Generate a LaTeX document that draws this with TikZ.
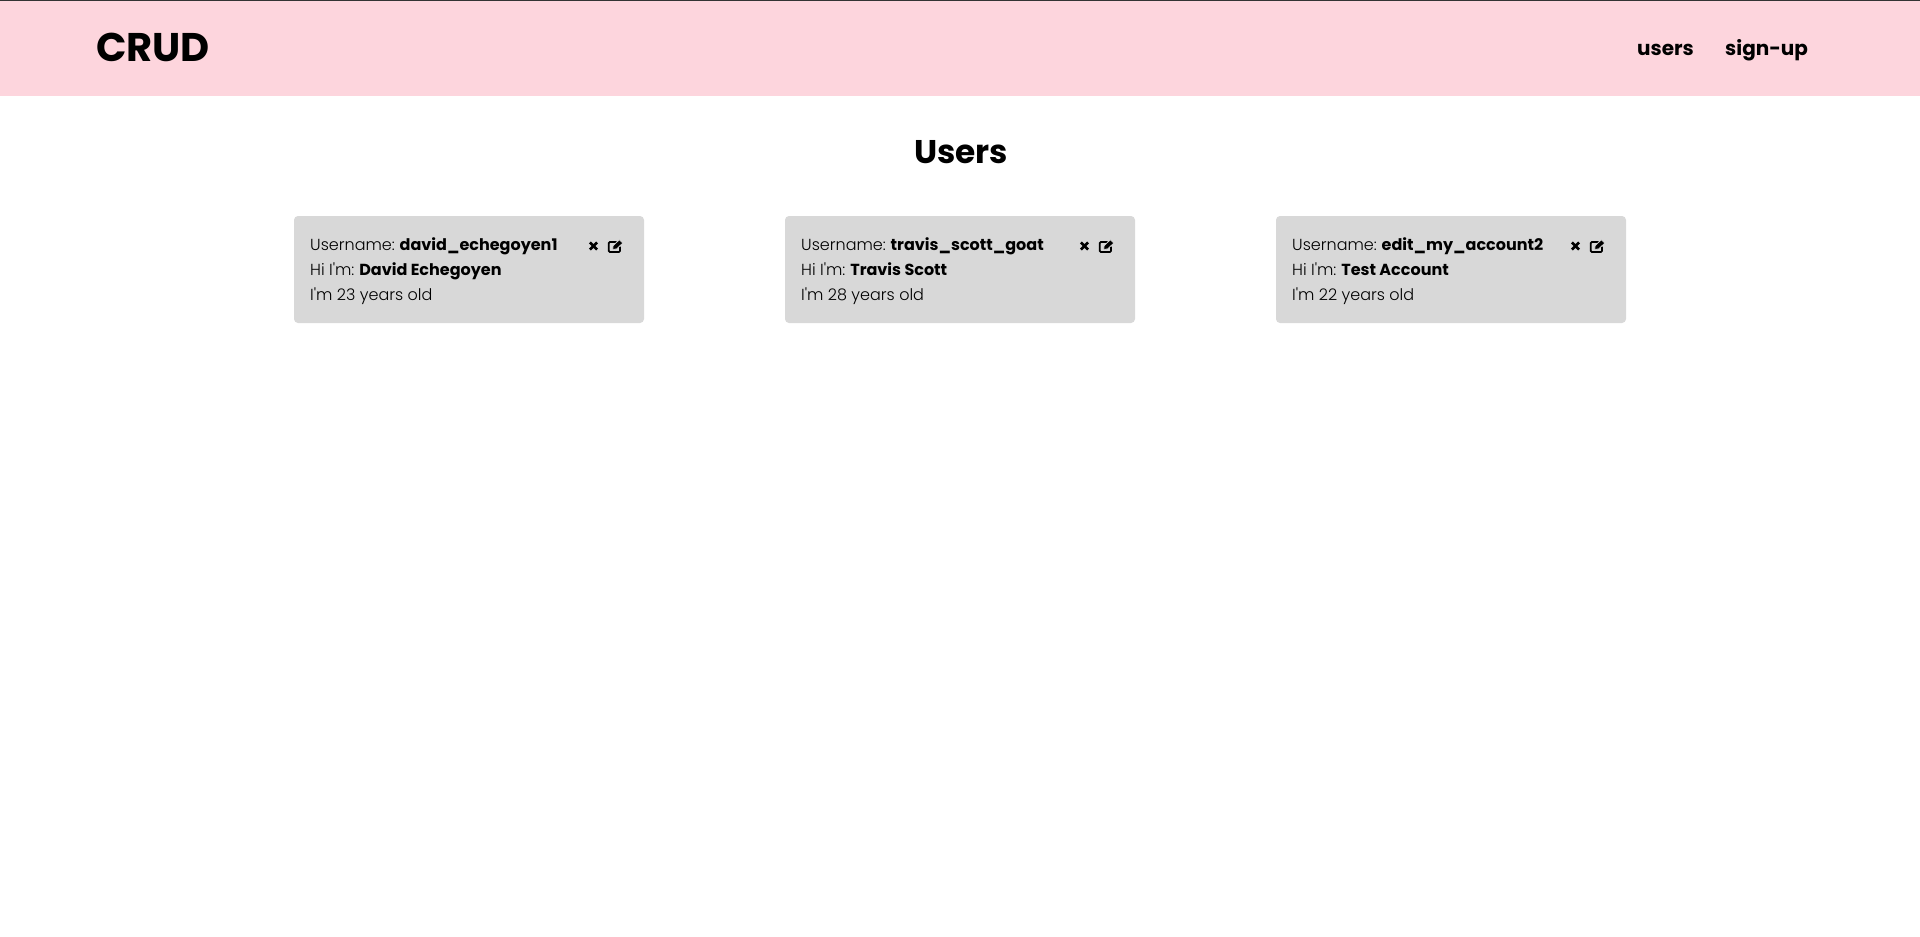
\documentclass[tikz,border=0pt]{standalone}
\usepackage{fontspec}
\setmainfont{Poppins Light}[BoldFont={Poppins Bold}]
\newfontfamily\headfont{Poppins}
\definecolor{navpink}{HTML}{FDD5DD}
\definecolor{cardgrey}{HTML}{D8D8D8}
\newcommand{\qt}{\textquotesingle}
\tikzset{
  logotext/.style={anchor=base west, inner sep=0pt, font=\fontsize{40}{40}\selectfont\headfont\bfseries},
  navtext/.style={anchor=base west, inner sep=0pt, font=\fontsize{20}{20}\selectfont\headfont\bfseries},
  titletext/.style={anchor=base, inner sep=0pt, font=\fontsize{32.8}{32}\selectfont\headfont\bfseries},
  cardtext/.style={anchor=base west, inner sep=0pt, font=\fontsize{16}{20}\selectfont},
  cardbox/.style={fill=cardgrey, rounded corners=4pt},
  closeicon/.pic={
    \draw[line width=2.6pt] (-3.6,-3.6) -- (3.6,3.6) (-3.6,3.6) -- (3.6,-3.6);
  },
  editicon/.pic={
    \draw[line width=1.7pt, rounded corners=1pt] (5,0.5) -- (5,6) -- (-6.2,6) -- (-6.2,-4) -- (1.5,-4);
    \fill[draw=cardgrey, line width=0.7pt] (-2.4,3.4) -- (-1.8,-0.4) -- (4.3,-6.2) -- (7.8,-3) -- (1.7,2.9) -- cycle;
  }
}
\begin{document}
\begin{tikzpicture}[x=1pt,y=-1pt]
\useasboundingbox (0,0) rectangle (1920,937);
\fill[white] (0,0) rectangle (1920,937);

% header
\fill[navpink] (0,0) rectangle (1920,96);
\fill[black!80] (0,0) rectangle (1920,1.2);
\draw (96,61)    node (logo) [logotext] {CRUD};
\draw (1637,55)  node (navusers) [navtext] {users};
\draw (1725,55)  node (navsignup) [navtext] {sign-up};
\draw (961,163)  node (title) [titletext] {Users};

% first card
\fill[cardbox] (294,216) rectangle (644,323);
\draw (310,250)  node (name1) [cardtext] {Username:\hspace{-1pt} \textbf{david\_echegoyen1}};
\draw (310,275)  node (real1) [cardtext] {Hi I\qt m:\hspace{-1pt} \textbf{David Echegoyen}};
\draw (310,300)  node (age1)  [cardtext] {I\qt m 23 years old};
\pic at (593.5,246) {closeicon};
\pic at (615,246) {editicon};

% second card
\fill[cardbox] (785,216) rectangle (1135,323);
\draw (801,250)  node (name2) [cardtext] {Username:\hspace{-1pt} \textbf{travis\_scott\_goat}};
\draw (801,275)  node (real2) [cardtext] {Hi I\qt m:\hspace{-1pt} \textbf{Travis Scott}};
\draw (801,300)  node (age2)  [cardtext] {I\qt m 28 years old};
\pic at (1084.5,246) {closeicon};
\pic at (1106,246) {editicon};

% third card
\fill[cardbox] (1276,216) rectangle (1626,323);
\draw (1292,250) node (name3) [cardtext] {Username:\hspace{-1pt} \textbf{edit\_my\_account2}};
\draw (1292,275) node (real3) [cardtext] {Hi I\qt m:\hspace{-1pt} \textbf{Test Account}};
\draw (1292,300) node (age3)  [cardtext] {I\qt m 22 years old};
\pic at (1575.5,246) {closeicon};
\pic at (1597,246) {editicon};

\end{tikzpicture}
\end{document}
